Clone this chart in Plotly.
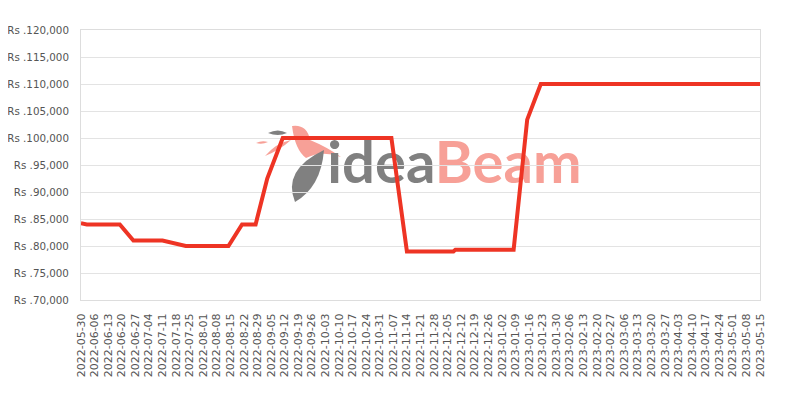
import plotly.graph_objects as go

dates = ["2022-05-30", "2022-06-02", "2022-06-19", "2022-06-26", "2022-07-11",
         "2022-07-17", "2022-07-23", "2022-08-14", "2022-08-21", "2022-08-28",
         "2022-09-03", "2022-09-11", "2022-11-06", "2022-11-14", "2022-12-08",
         "2022-12-09", "2023-01-08", "2023-01-15", "2023-01-22", "2023-05-15"]
prices = [84200, 84000, 84000, 81000, 81000,
          80500, 80000, 80000, 84000, 84000,
          92500, 100000, 100000, 79000, 79000,
          79300, 79300, 103400, 110000, 110000]

x_start = "2022-05-30"
x_end = "2023-05-15"
y_min, y_max, y_step = 70000, 120000, 5000

# plot area in page pixels (for the decorative watermark logo)
PL, PR, PT, PB = 81, 760, 30, 300


def P(x, y):
    return "%.4f,%.4f" % ((x - PL) / (PR - PL), (PB - y) / (PB - PT))


feather = ("M" + P(295, 202) + " Q" + P(282, 170) + " " + P(324, 150)
           + " Q" + P(321, 187) + " " + P(295, 202) + " Z")
body = ("M" + P(292, 126) + " Q" + P(307, 124) + " " + P(310, 140)
        + " Q" + P(327, 147) + " " + P(341, 157) + " Q" + P(322, 150) + " " + P(306, 158)
        + " Q" + P(295, 150) + " " + P(292, 126) + " Z")
beak = ("M" + P(265, 156) + " Q" + P(276, 143) + " " + P(291, 140)
        + " Q" + P(280, 150) + " " + P(265, 156) + " Z")
leaf_grey = ("M" + P(268, 133) + " Q" + P(278, 128) + " " + P(287, 133)
             + " Q" + P(278, 137) + " " + P(268, 133) + " Z")
leaf_pink = ("M" + P(256, 143) + " Q" + P(262, 140) + " " + P(268, 142)
             + " Q" + P(262, 145) + " " + P(256, 143) + " Z")

fig = go.Figure()
fig.add_trace(go.Scatter(
    x=dates, y=prices, mode="lines",
    line=dict(color="#ee3424", width=4),
    showlegend=False, hoverinfo="x+y",
))

deco = [
    dict(type="path", xref="paper", yref="paper", path=body, line=dict(width=0),
         fillcolor="#f7a097", layer="below"),
    dict(type="path", xref="paper", yref="paper", path=beak, line=dict(width=0),
         fillcolor="#f7a097", layer="below"),
    dict(type="path", xref="paper", yref="paper", path=leaf_pink, line=dict(width=0),
         fillcolor="#f7a097", layer="below"),
    dict(type="path", xref="paper", yref="paper", path=leaf_grey, line=dict(width=0),
         fillcolor="#808080", layer="below"),
    dict(type="path", xref="paper", yref="paper", path=feather, line=dict(width=0),
         fillcolor="#808080", layer="below"),
]

fig.update_layout(
    width=800, height=400,
    margin=dict(l=73, r=48, t=22, b=108, autoexpand=False),
    paper_bgcolor="white", plot_bgcolor="white",
    font=dict(family="DejaVu Sans", size=11, color="#555555"),
    shapes=deco + [
        dict(type="rect", xref="paper", yref="paper", x0=0.36, x1=0.74, y0=0.37, y1=0.67,
             line=dict(width=0), fillcolor="rgba(0,0,0,0)", layer="below",
             label=dict(text="<span style='color:#808080'>idea</span><span style='color:#f7a097'>Beam</span>",
                        font=dict(family="Lato", size=58, weight="bold", color="#808080"),
                        textposition="middle center")),
    ],
)
fig.update_xaxes(
    type="date", range=[x_start, x_end], automargin=False,
    tick0=x_start, dtick=7 * 24 * 3600 * 1000, tickformat="%Y-%m-%d",
    tickangle=-90, ticklabelstandoff=8,
    showgrid=False, showline=True, linecolor="#dddddd", linewidth=1, mirror=True,
    zeroline=False, tickfont=dict(size=11, color="#555555"),
)
fig.update_yaxes(
    range=[y_min, y_max], dtick=y_step, tick0=y_min, automargin=False,
    tickprefix="Rs .", tickformat=",", ticklabelstandoff=9,
    showgrid=True, gridcolor="#e3e3e3", gridwidth=1,
    showline=True, linecolor="#dddddd", linewidth=1, mirror=True,
    zeroline=False, tickfont=dict(size=10.3, color="#555555"),
)

fig.write_html("out.html")
